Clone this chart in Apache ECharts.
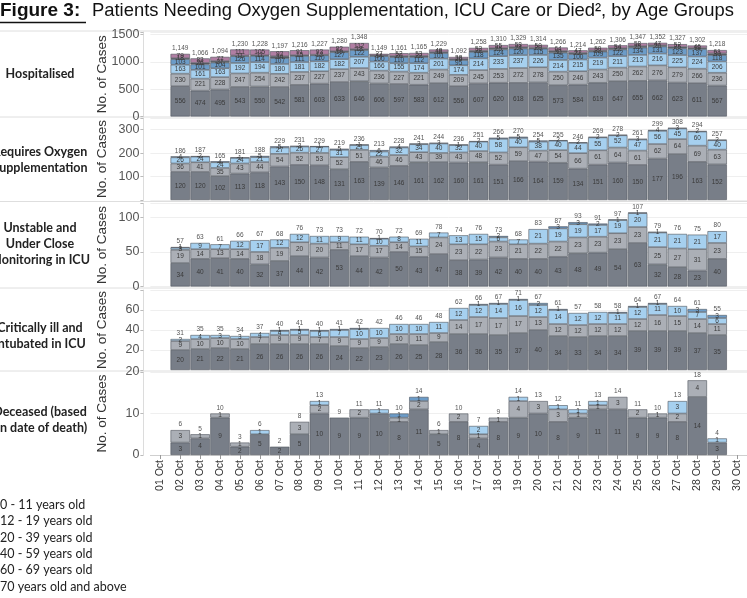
<!DOCTYPE html>
<html><head><meta charset="utf-8">
<script src="https://cdn.jsdelivr.net/npm/echarts@6/dist/echarts.min.js"></script>
<style>html,body{margin:0;padding:0;background:#fff}#c{width:747px;height:598px}</style>
</head><body><div id="c"></div>
<script>
const dates = ['01 Oct','02 Oct','03 Oct','04 Oct','05 Oct','06 Oct','07 Oct','08 Oct','09 Oct','10 Oct','11 Oct','12 Oct','13 Oct','14 Oct','15 Oct','16 Oct','17 Oct','18 Oct','19 Oct','20 Oct','21 Oct','22 Oct','23 Oct','24 Oct','25 Oct','26 Oct','27 Oct','28 Oct','29 Oct','30 Oct'];
// bars exist for 02 Oct .. 29 Oct
const ageGroups = ['0 - 11 years old','12 - 19 years old','20 - 39 years old','40 - 59 years old','60 - 69 years old','70 years old and above'];
const panelTitles = ['Hospitalised','Requires Oxygen\nSupplementation','Unstable and\nUnder Close\nMonitoring in ICU','Critically ill and\nIntubated in ICU','Deceased (based\non date of death)'];
const yTickLabels = [[0,500,1000,1500],[100,200,300],[0,50,100],[20,40,60],[0,10,20]];

// Hospitalised
const hosp70 = [556,474,495,543,550,542,581,603,633,646,606,597,583,612,556,607,620,618,625,573,584,619,647,655,662,623,611,567];
const hosp60 = [230,221,228,247,254,242,237,227,237,243,236,227,221,249,209,245,253,272,278,250,246,243,250,262,276,279,266,236];
const hosp40 = [163,161,163,192,194,180,181,182,182,207,166,155,174,201,174,214,233,237,226,214,215,219,211,213,216,225,224,206];
const hosp20 = [103,101,104,126,114,107,111,110,127,122,100,110,112,101,95,118,124,120,115,135,100,109,122,134,131,123,137,118];
const hosp12 = [18,26,27,11,11,34,15,12,19,18,14,20,22,18,20,22,25,24,20,30,22,22,22,25,20,25,18,30];
const hosp0  = [79,83,77,111,105,92,91,93,82,112,27,52,53,48,38,52,55,58,50,64,47,50,54,58,47,52,46,61];
const hospTotal = [1149,1066,1094,1230,1228,1197,1216,1227,1280,1348,1149,1161,1165,1229,1092,1258,1310,1329,1314,1266,1214,1262,1306,1347,1352,1327,1302,1218];

// Requires oxygen supplementation
const oxy70 = [120,120,102,113,118,143,150,148,131,163,139,146,161,162,160,161,151,166,164,159,134,151,160,150,177,196,163,152];
const oxy60 = [36,41,35,43,44,54,52,53,52,51,46,46,43,39,43,48,52,59,47,54,66,61,64,61,62,64,69,63];
const oxy40 = [26,24,24,24,21,27,26,27,31,21,22,32,34,40,32,40,58,40,38,40,44,55,52,47,56,45,60,40];
const oxy20 = [4,2,4,1,5,5,3,1,5,1,6,4,3,3,1,2,5,5,5,2,2,2,2,3,4,3,2,2];
const oxyTotal = [186,187,165,181,188,229,231,229,219,236,213,228,241,244,236,251,266,270,254,255,246,269,278,261,299,308,294,257];

// Unstable and under close monitoring in ICU
const icu70 = [34,40,41,40,32,37,44,42,53,44,42,50,43,47,38,39,42,40,40,43,48,49,54,63,32,28,23,40];
const icu60 = [19,14,13,14,18,19,20,20,11,17,17,14,15,24,23,22,23,21,22,22,23,23,23,23,25,27,31,23];
const icu40 = [3,9,7,12,17,12,12,11,9,11,10,8,11,7,13,15,6,7,21,19,19,17,19,20,21,21,21,17];
const icu20 = [1,0,0,0,0,0,0,0,0,0,1,0,0,0,0,0,2,0,0,3,3,2,1,1,1,0,0,0];
const icuTotal = [57,63,61,66,67,68,76,73,73,72,70,72,69,78,74,76,73,68,83,87,93,91,97,107,79,76,75,80];

// Critically ill and intubated in ICU
const crit70 = [20,21,22,21,26,26,26,26,24,22,23,26,25,28,36,36,35,37,40,34,33,34,34,39,39,39,37,35];
const crit60 = [9,10,10,10,7,9,9,7,9,9,9,10,11,9,14,17,17,17,13,12,12,12,12,12,16,15,14,11];
const crit40 = [2,4,3,3,4,4,5,6,7,10,10,10,10,11,12,12,14,16,12,14,12,12,11,12,11,10,7,6];
const crit20 = [0,0,0,0,0,1,1,1,1,1,0,0,0,0,0,1,1,1,2,1,0,0,1,1,1,0,3,3];
const critTotal = [31,35,35,34,37,40,41,40,41,42,42,46,46,48,62,66,67,71,67,61,57,58,58,64,67,64,61,55];

// Deceased
const dec70 = [3,4,9,2,5,2,5,10,9,9,10,8,11,5,8,4,8,9,10,8,9,11,11,9,9,8,14,3];
const dec60 = [3,1,1,1,0,0,3,2,0,2,0,1,2,1,2,1,1,4,3,3,1,1,3,2,1,2,4,0];
const dec40 = [0,0,0,0,1,0,0,1,0,0,1,0,0,0,0,2,0,1,0,1,1,1,0,0,0,3,0,1];
const dec20 = [0,0,0,0,0,0,0,0,0,0,0,1,1,0,0,0,0,0,0,0,0,0,0,0,0,0,0,0];
const decTotal = [6,5,10,3,6,2,8,13,9,11,11,10,14,6,10,7,9,14,13,12,11,13,14,11,10,13,18,4];

const colors = {
  '70 years old and above':'#787e88',
  '60 - 69 years old':'#abafb6',
  '40 - 59 years old':'#a6d0ef',
  '20 - 39 years old':'#6c9cc8',
  '12 - 19 years old':'#3b3d44',
  '0 - 11 years old':'#b07ea3'
};

const panels = [
  {groups:[['70 years old and above',hosp70],['60 - 69 years old',hosp60],['40 - 59 years old',hosp40],['20 - 39 years old',hosp20],['12 - 19 years old',hosp12],['0 - 11 years old',hosp0]], total:hospTotal, max:1550, interval:500, top:32, height:84.5, comma:true, titleY:74},
  {groups:[['70 years old and above',oxy70],['60 - 69 years old',oxy60],['40 - 59 years old',oxy40],['20 - 39 years old',oxy20]], total:oxyTotal, max:350, interval:100, top:118, height:82, titleY:160},
  {groups:[['70 years old and above',icu70],['60 - 69 years old',icu60],['40 - 59 years old',icu40],['20 - 39 years old',icu20]], total:icuTotal, max:120, interval:50, top:203.5, height:83, titleY:244},
  {groups:[['70 years old and above',crit70],['60 - 69 years old',crit60],['40 - 59 years old',crit40],['20 - 39 years old',crit20]], total:critTotal, max:80, interval:20, top:290, height:80, titleY:336},
  {groups:[['70 years old and above',dec70],['60 - 69 years old',dec60],['40 - 59 years old',dec40],['20 - 39 years old',dec20]], total:decTotal, max:20, interval:10, top:372, height:83, titleY:420}
];

const pad = arr => ['-', ...arr.map(v => v === 0 ? '-' : v), '-'];
const GL = 150.4, GW = 601.3, BW = 19.4;
const FONT = 'Liberation Sans';

const grid = [], xAxis = [], yAxis = [], series = [];
panels.forEach((p, i) => {
  grid.push({left:GL, width:GW, top:p.top, height:p.height});
  const last = i === panels.length - 1;
  xAxis.push({type:'category', gridIndex:i, data:dates, boundaryGap:true,
    axisLine:{show:last, lineStyle:{color:'#cfcfcf'}},
    axisTick:{show:last, alignWithLabel:true, length:4, lineStyle:{color:'#999'}},
    axisLabel:{show:last, interval:0, rotate:90, fontSize:10.5, color:'#333', margin:5, fontFamily:FONT}});
  const shown = yTickLabels[i];
  yAxis.push({type:'value', gridIndex:i, min:0, max:p.max, interval:p.interval, offset:7,
    name:'No. of Cases', nameLocation:'middle', nameGap:34, nameRotate:90, nameMoveOverlap:false,
    nameTextStyle:{fontSize:13.5, color:'#333', fontFamily:FONT},
    axisLine:{show:true, lineStyle:{color:'#dcdcdc'}},
    axisTick:{show:true, length:3, lineStyle:{color:'#bbb'}},
    axisLabel:{fontSize:12.5, color:'#555', margin:4, fontFamily:FONT,
      formatter: v => shown.includes(v) ? String(v) : ''},
    splitLine:{show:true, lineStyle:{color:'#efefef'}}});
  p.groups.forEach(([name, arr]) => {
    series.push({type:'bar', name, xAxisIndex:i, yAxisIndex:i, stack:'s'+i, data:pad(arr),
      barWidth:BW, barGap:'-100%',
      itemStyle:{color:colors[name], borderColor:'#4f545c', borderWidth:0.6},
      label:{show:true, position:'inside', fontSize:6.5, color:'#3a3a3a', fontFamily:FONT,
        formatter: q => (typeof q.value === 'number' && q.value) ? String(q.value) : ''}});
  });
  series.push({type:'bar', name:'total'+i, xAxisIndex:i, yAxisIndex:i, data:pad(p.total),
    barWidth:BW, barGap:'-100%', silent:true, z:1,
    itemStyle:{color:'rgba(0,0,0,0)'},
    label:{show:true, position:'top', distance:2, fontSize:6.5, color:'#555', fontFamily:FONT,
      formatter: q => typeof q.value === 'number' ? (p.comma ? q.value.toLocaleString('en-US') : String(q.value)) : ''}});
});

const graphic = [];
graphic.push({type:'text', left:0, top:1, style:{text:'Figure 3:', font:'bold 19px "Liberation Sans"', fill:'#111'}});
graphic.push({type:'line', shape:{x1:0, y1:22.5, x2:86, y2:22.5}, style:{stroke:'#111', lineWidth:1.3}});
graphic.push({type:'text', left:92, top:2, style:{text:'Patients Needing Oxygen Supplementation, ICU Care or Died\u00B2, by Age Groups', font:'18.4px "Liberation Sans"', fill:'#111'}});
[31, 117, 201.5, 288, 371].forEach(y => graphic.push({type:'line', shape:{x1:0, y1:y, x2:747, y2:y}, style:{stroke:'#dedede', lineWidth:1}}));
panels.forEach((p, i) => {
  graphic.push({type:'text', x:40, y:p.titleY, style:{text:panelTitles[i], font:'bold 12.5px Lato', fill:'#222', textAlign:'center', textVerticalAlign:'middle', lineHeight:16}});
});
ageGroups.forEach((g, k) => {
  graphic.push({type:'text', x:0, y:505 + k*16.35, style:{text:g, font:'12.5px Lato', fill:'#222', textAlign:'left', textVerticalAlign:'middle'}});
});

const chart = echarts.init(document.getElementById('c'), null, {renderer:'canvas'});
chart.setOption({animation:false, backgroundColor:'#fff', grid, xAxis, yAxis, series, graphic});
</script></body></html>
